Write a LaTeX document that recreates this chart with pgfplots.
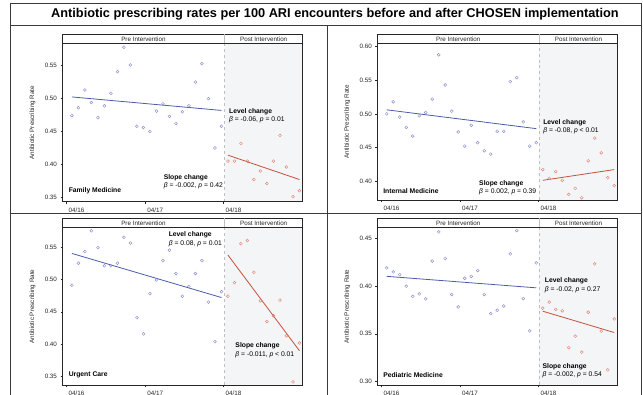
\documentclass[border=0pt]{standalone}
\usepackage{fontspec}
\setmainfont{Liberation Sans}
\usepackage{pgfplots}
\pgfplotsset{compat=1.18}

\definecolor{preM}{HTML}{8A90D0}
\definecolor{preL}{HTML}{4B5BAA}
\definecolor{postM}{HTML}{E0887A}
\definecolor{postL}{HTML}{C4513F}
\definecolor{postBG}{HTML}{F3F5F6}
\definecolor{frm}{HTML}{3A3A3A}

\newcommand{\smallf}{\fontsize{6.3}{7}\selectfont}
\newcommand{\annf}{\fontsize{6.8}{8}\selectfont}

\pgfplotsset{
 panel/.style={
  scale only axis, width=240bp,
  xmin=-0.45, xmax=36.47,
  axis on top,
  axis line style={draw=black!85, line width=0.6pt},
  tick align=outside, tick pos=left,
  major tick length=2bp,
  tick style={black!85, line width=0.5pt},
  xtick={0.2,12.3,24.35}, xticklabels={04/16,04/17,04/18},
  xticklabel style={anchor=north west, xshift=-1.5bp, yshift=-0.5bp},
  ticklabel style={font=\smallf, text=black!85},
  yticklabel style={/pgf/number format/.cd, fixed, fixed zerofill, precision=2},
  /pgf/number format/assume math mode=true,
  clip=false,
 },
 pre/.style={only marks, mark=o, mark size=1.45bp, mark options={draw=preM, line width=0.45pt}},
 post/.style={only marks, mark=o, mark size=1.45bp, mark options={draw=postM, line width=0.45pt}},
 preline/.style={no marks, preL, line width=0.8pt},
 postline/.style={no marks, postL, line width=0.8pt},
}

\newcommand{\panelbg}{%
  \fill[postBG] (rel axis cs:0.6758,0) rectangle (rel axis cs:1,1);
  \draw[dashed, black!25, line width=0.5pt] (rel axis cs:0.6758,0) -- (rel axis cs:0.6758,1);
}
\newcommand{\panelstrip}{%
  \draw[line width=0.6pt, black!85] (rel axis cs:0,1) rectangle ([yshift=9bp]rel axis cs:1,1);
  \draw[black!25, line width=0.5pt] (rel axis cs:0.6758,1) -- ([yshift=9bp]rel axis cs:0.6758,1);
  \node[font=\smallf, text=black!85, inner sep=0] at ([yshift=4.5bp]rel axis cs:0.3372,1) {Pre Intervention};
  \node[font=\smallf, text=black!85, inner sep=0] at ([yshift=4.5bp]rel axis cs:0.8383,1) {Post Intervention};
  \node[rotate=90, font=\smallf, text=black!85] at ([xshift=-30bp]rel axis cs:0,0.5) {Antibiotic Prescribing Rate};
}

\begin{document}
\begin{tikzpicture}
\useasboundingbox (0,0) rectangle (643bp,395bp);

% frame
\draw[frm, line width=0.8pt] (10bp,-5bp) -- (10bp,392bp) -- (641.7bp,392bp) -- (641.7bp,-5bp);
\draw[frm, line width=0.8pt] (10bp,370bp) -- (641.7bp,370bp);
\draw[frm, line width=0.8pt] (10bp,181.7bp) -- (641.7bp,181.7bp);
\draw[frm, line width=0.8pt] (327.7bp,370bp) -- (327.7bp,-5bp);
\node[font=\fontsize{12.8}{14}\selectfont\bfseries] at (335bp,381.2bp) {Antibiotic prescribing rates per 100 ARI encounters before and after CHOSEN implementation};

% ---------------- Family Medicine
\begin{axis}[panel, at={(62.5bp,193.3bp)}, anchor=south west, height=158.2bp,
  ymin=0.3433, ymax=0.5837, ytick={0.35,0.40,0.45,0.50,0.55}]
\panelbg
\addplot[pre] coordinates {(1,0.474)(2,0.486)(3,0.513)(4,0.494)(5,0.471)(6,0.489)(7,0.508)(8,0.541)(9,0.578)(10,0.551)(11,0.458)(12,0.456)(13,0.450)(14,0.481)(15,0.492)(16,0.473)(17,0.462)(18,0.480)(19,0.489)(20,0.525)(21,0.553)(22,0.500)(23,0.425)(24,0.458)};
\addplot[post] coordinates {(25,0.405)(26,0.405)(27,0.432)(28,0.405)(29,0.377)(30,0.390)(31,0.371)(32,0.405)(33,0.444)(34,0.396)(35,0.351)(36,0.360)};
\addplot[preline] coordinates {(1,0.5025)(24,0.482)};
\addplot[postline] coordinates {(25,0.414)(36,0.377)};
\panelstrip
\node[anchor=west, font=\annf\bfseries, inner sep=0] at (axis cs:25.15,0.4798) {Level change};
\node[anchor=west, font=\annf, inner sep=0] at (axis cs:25.15,0.4681) {\textit{β} = -0.06, \textit{p} = 0.01};
\node[anchor=west, font=\annf\bfseries, inner sep=0] at (axis cs:15.1,0.380) {Slope change};
\node[anchor=west, font=\annf, inner sep=0] at (axis cs:15.1,0.3674) {\textit{β} = -0.002, \textit{p} = 0.42};
\node[anchor=west, font=\annf\bfseries, inner sep=0] at (axis cs:0.49,0.3593) {Family Medicine};
\end{axis}

% ---------------- Internal Medicine
\begin{axis}[panel, at={(377.3bp,195bp)}, anchor=south west, height=156.5bp,
  ymin=0.3717, ymax=0.6048, ytick={0.40,0.45,0.50,0.55,0.60}]
\panelbg
\addplot[pre] coordinates {(1,0.500)(2,0.518)(3,0.495)(4,0.480)(5,0.467)(6,0.497)(7,0.502)(8,0.522)(9,0.588)(10,0.543)(11,0.504)(12,0.473)(13,0.452)(14,0.483)(15,0.457)(16,0.445)(17,0.440)(18,0.474)(19,0.474)(20,0.548)(21,0.554)(22,0.488)(23,0.452)(24,0.457)};
\addplot[post] coordinates {(25,0.417)(26,0.404)(27,0.414)(28,0.401)(29,0.380)(30,0.389)(31,0.375)(32,0.430)(33,0.464)(34,0.442)(35,0.405)(36,0.393)};
\addplot[preline] coordinates {(1,0.506)(24,0.478)};
\addplot[postline] coordinates {(25,0.401)(36,0.417)};
\panelstrip
\node[anchor=west, font=\annf\bfseries, inner sep=0] at (axis cs:25.05,0.4866) {Level change};
\node[anchor=west, font=\annf, inner sep=0] at (axis cs:25.05,0.4752) {\textit{β} = -0.08, \textit{p} < 0.01};
\node[anchor=west, font=\annf\bfseries, inner sep=0] at (axis cs:15.2,0.3963) {Slope change};
\node[anchor=west, font=\annf, inner sep=0] at (axis cs:15.2,0.384) {\textit{β} = 0.002, \textit{p} = 0.39};
\node[anchor=west, font=\annf\bfseries, inner sep=0] at (axis cs:0.44,0.385) {Internal Medicine};
\end{axis}

% ---------------- Urgent Care
\begin{axis}[panel, at={(62.5bp,9.7bp)}, anchor=south west, height=157.8bp,
  ymin=0.3367, ymax=0.580, ytick={0.35,0.40,0.45,0.50,0.55}]
\panelbg
\addplot[pre] coordinates {(1,0.491)(2,0.525)(3,0.543)(4,0.575)(5,0.549)(6,0.521)(7,0.521)(8,0.525)(9,0.565)(10,0.556)(11,0.441)(12,0.416)(13,0.478)(14,0.499)(15,0.529)(16,0.545)(17,0.509)(18,0.474)(19,0.489)(20,0.509)(21,0.529)(22,0.465)(23,0.404)(24,0.481)};
\addplot[post] coordinates {(25,0.474)(26,0.495)(27,0.555)(28,0.560)(29,0.511)(30,0.467)(31,0.435)(32,0.444)(33,0.468)(34,0.413)(35,0.342)(36,0.402)};
\addplot[preline] coordinates {(1,0.540)(24,0.472)};
\addplot[postline] coordinates {(25,0.5375)(36,0.390)};
\panelstrip
\node[anchor=west, font=\annf\bfseries, inner sep=0] at (axis cs:15.87,0.5684) {Level change};
\node[anchor=west, font=\annf, inner sep=0] at (axis cs:15.87,0.5555) {\textit{β} = 0.08, \textit{p} = 0.01};
\node[anchor=west, font=\annf\bfseries, inner sep=0] at (axis cs:26.13,0.3972) {Slope change};
\node[anchor=west, font=\annf, inner sep=0] at (axis cs:26.13,0.3843) {\textit{β} = -0.011, \textit{p} < 0.01};
\node[anchor=west, font=\annf\bfseries, inner sep=0] at (axis cs:0.49,0.3525) {Urgent Care};
\end{axis}

% ---------------- Pediatric Medicine
\begin{axis}[panel, at={(377.3bp,9.7bp)}, anchor=south west, height=157.8bp,
  ymin=0.2962, ymax=0.461, ytick={0.30,0.35,0.40,0.45}]
\panelbg
\addplot[pre] coordinates {(1,0.4188)(2,0.4146)(3,0.4118)(4,0.3997)(5,0.389)(6,0.3916)(7,0.3864)(8,0.426)(9,0.4564)(10,0.4285)(11,0.391)(12,0.378)(13,0.408)(14,0.410)(15,0.416)(16,0.391)(17,0.371)(18,0.3746)(19,0.379)(20,0.4334)(21,0.4578)(22,0.3868)(23,0.353)(24,0.424)};
\addplot[post] coordinates {(25,0.3767)(26,0.383)(27,0.3756)(28,0.374)(29,0.3356)(30,0.3475)(31,0.3308)(32,0.3725)(33,0.423)(34,0.3527)(35,0.3123)(36,0.3655)};
\addplot[preline] coordinates {(1,0.410)(24,0.398)};
\addplot[postline] coordinates {(25,0.3736)(36,0.3513)};
\panelstrip
\node[anchor=west, font=\annf\bfseries, inner sep=0] at (axis cs:25.3,0.4052) {Level change};
\node[anchor=west, font=\annf, inner sep=0] at (axis cs:25.3,0.3965) {\textit{β} = -0.02, \textit{p} = 0.27};
\node[anchor=west, font=\annf\bfseries, inner sep=0] at (axis cs:24.95,0.3151) {Slope change};
\node[anchor=west, font=\annf, inner sep=0] at (axis cs:24.95,0.3071) {\textit{β} = -0.002, \textit{p} = 0.54};
\node[anchor=west, font=\annf\bfseries, inner sep=0] at (axis cs:0.44,0.3071) {Pediatric Medicine};
\end{axis}
\end{tikzpicture}
\end{document}
